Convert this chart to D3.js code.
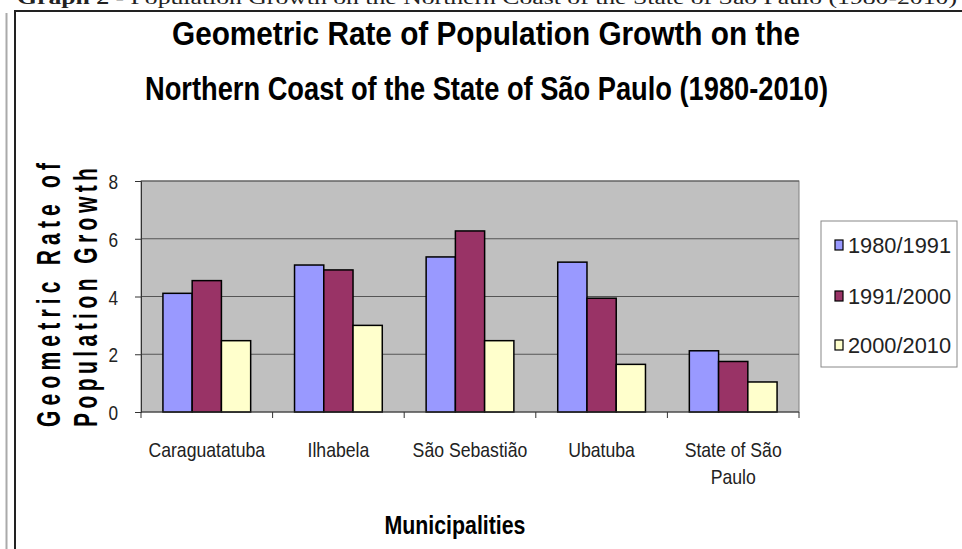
<!DOCTYPE html>
<html>
<head>
<meta charset="utf-8">
<script src="https://cdn.jsdelivr.net/npm/d3@7"></script>
<style>
  body { margin: 0; background: #fff; }
  svg { display: block; }
</style>
</head>
<body>
<script>
// Data
var municipalities = ["Caraguatatuba", "Ilhabela", "São Sebastião", "Ubatuba", "State of São Paulo"];
var periods = ["1980/1991", "1991/2000", "2000/2010"];
var rate8091 = [4.11, 5.09, 5.37, 5.19, 2.12];
var rate9100 = [4.55, 4.92, 6.27, 3.94, 1.75];
var rate0010 = [2.47, 3.00, 2.47, 1.65, 1.04];
var yTicks = [0, 2, 4, 6, 8];
var barColors = ["#9999ff", "#993366", "#ffffcc"];

var series = [rate8091, rate9100, rate0010];

var width = 962, height = 549;
var plot = { left: 141, right: 799, top: 181, bottom: 412 };

var svg = d3.select("body").append("svg")
    .attr("width", width)
    .attr("height", height)
    .style("font-family", "'Liberation Sans', Arial, sans-serif");

// squeeze a text sideways so it looks like the narrow font of the original
function narrow(sel, k) {
  sel.each(function() {
    var len = this.getComputedTextLength();
    d3.select(this).attr("textLength", len * k).attr("lengthAdjust", "spacingAndGlyphs");
  });
}

// caption of the page, clipped at the top
svg.append("text")
    .attr("x", 17).attr("y", 4)
    .attr("textLength", 940).attr("lengthAdjust", "spacingAndGlyphs")
    .style("font-family", "'Liberation Serif', 'Times New Roman', serif")
    .style("font-size", "19px")
    .style("fill", "#222")
    .html("<tspan font-weight='bold'>Graph 2</tspan> - Population Growth on the Northern Coast of the State of São Paulo (1980-2010)");

// frame lines
svg.append("line").attr("x1", 6.5).attr("x2", 6.5).attr("y1", 13).attr("y2", height)
    .style("stroke", "#aaa").style("stroke-width", 2);
svg.append("line").attr("x1", 15).attr("x2", 15).attr("y1", 11).attr("y2", height)
    .style("stroke", "#222").style("stroke-width", 2);
svg.append("line").attr("x1", 14).attr("x2", width).attr("y1", 11).attr("y2", 11)
    .style("stroke", "#222").style("stroke-width", 2);

// chart title
var titleLines = [
  { text: "Geometric Rate of Population Growth on the", x: 486, y: 45, w: 628 },
  { text: "Northern Coast of the State of São Paulo (1980-2010)", x: 486.5, y: 100, w: 683 }
];
svg.selectAll(".title").data(titleLines).enter().append("text")
    .attr("class", "title")
    .attr("x", function(d) { return d.x; })
    .attr("y", function(d) { return d.y; })
    .attr("text-anchor", "middle")
    .attr("textLength", function(d) { return d.w; })
    .attr("lengthAdjust", "spacingAndGlyphs")
    .style("font-size", "33px")
    .style("font-weight", "bold")
    .text(function(d) { return d.text; });

// scales
var x0 = d3.scaleBand().domain(municipalities).range([plot.left, plot.right]);
var x1 = d3.scaleBand().domain(periods).range([0, x0.bandwidth()]).paddingOuter(0.75);
var y = d3.scaleLinear().domain([0, 8]).range([plot.bottom, plot.top]);

// plot area
svg.append("rect")
    .attr("x", plot.left).attr("y", plot.top)
    .attr("width", plot.right - plot.left).attr("height", plot.bottom - plot.top)
    .style("fill", "#c0c0c0")
    .style("stroke", "#808080");

// gridlines
svg.append("g").selectAll("line").data(yTicks.filter(function(t) { return t > 0; }))
  .enter().append("line")
    .attr("x1", plot.left).attr("x2", plot.right)
    .attr("y1", function(d) { return y(d); }).attr("y2", function(d) { return y(d); })
    .style("stroke", "#555").style("stroke-width", 1);

// bars
var groups = svg.append("g").selectAll("g").data(municipalities).enter().append("g")
    .attr("transform", function(d) { return "translate(" + x0(d) + ",0)"; });
groups.selectAll("rect")
    .data(function(d, i) { return periods.map(function(p, j) { return { p: p, v: series[j][i], c: barColors[j] }; }); })
  .enter().append("rect")
    .attr("x", function(d) { return x1(d.p); })
    .attr("y", function(d) { return y(d.v); })
    .attr("width", x1.bandwidth())
    .attr("height", function(d) { return y(0) - y(d.v); })
    .style("fill", function(d) { return d.c; })
    .style("stroke", "#000")
    .style("stroke-width", 1.5);

// y axis
var yAxis = svg.append("g")
    .attr("transform", "translate(" + plot.left + ",0)")
    .call(d3.axisLeft(y).tickValues(yTicks).tickSize(6).tickPadding(17));
yAxis.select(".domain").style("stroke", "#333");
yAxis.selectAll(".tick line").style("stroke", "#333");
yAxis.selectAll(".tick text")
    .style("font-family", "'Liberation Sans', Arial, sans-serif")
    .style("font-size", "21px").style("fill", "#222")
    .attr("dy", "0.36em")
    .call(narrow, 0.82);

// x axis with ticks between categories
var xAxis = svg.append("g")
    .attr("transform", "translate(0," + plot.bottom + ")");
xAxis.append("line").attr("x1", plot.left).attr("x2", plot.right)
    .style("stroke", "#333");
var boundaries = municipalities.map(function(m) { return x0(m); }).concat([plot.right]);
xAxis.selectAll(".xt").data(boundaries).enter().append("line")
    .attr("class", "xt")
    .attr("x1", function(d) { return d; }).attr("x2", function(d) { return d; })
    .attr("y1", 0).attr("y2", 6)
    .style("stroke", "#333");

// category labels, wrapped like the original
var catLines = { "State of São Paulo": ["State of São", "Paulo"] };
municipalities.forEach(function(m) {
  var lines = catLines[m] || [m];
  lines.forEach(function(l, i) {
    svg.append("text")
      .attr("x", x0(m) + x0.bandwidth() / 2)
      .attr("y", 457 + i * 27)
      .attr("text-anchor", "middle")
      .style("font-size", "21px").style("fill", "#222")
      .text(l)
      .call(narrow, 0.84);
  });
});

// x axis title
svg.append("text")
    .attr("x", 455).attr("y", 534)
    .attr("text-anchor", "middle")
    .style("font-size", "26px").style("font-weight", "bold")
    .text("Municipalities")
    .call(narrow, 0.82);

// y axis title, two rotated lines with spaced letters
var yTitle = [
  { text: "Geometric Rate of", x: 60, len: 264 },
  { text: "Population Growth", x: 97, len: 259 }
];
svg.selectAll(".ytitle").data(yTitle).enter().append("text")
    .attr("class", "ytitle")
    .attr("transform", function(d) { return "translate(" + d.x + ",427) rotate(-90) scale(0.62,1)"; })
    .attr("textLength", function(d) { return d.len / 0.62; })
    .attr("lengthAdjust", "spacing")
    .style("font-size", "34px").style("font-weight", "bold")
    .text(function(d) { return d.text; });

// legend
var legend = svg.append("g");
legend.append("rect")
    .attr("x", 821).attr("y", 221).attr("width", 136).attr("height", 146)
    .style("fill", "#fff").style("stroke", "#888");
var legendY = [245, 296, 345];
var items = legend.selectAll(".item").data(periods).enter().append("g")
    .attr("class", "item")
    .attr("transform", function(d, i) { return "translate(835," + legendY[i] + ")"; });
items.append("rect")
    .attr("x", 0).attr("y", -5).attr("width", 8).attr("height", 10)
    .style("fill", function(d, i) { return barColors[i]; })
    .style("stroke", "#000").style("stroke-width", 1.2);
items.append("text")
    .attr("x", 13).attr("y", 0).attr("dy", "0.36em")
    .attr("textLength", 103).attr("lengthAdjust", "spacingAndGlyphs")
    .style("font-size", "22px").style("fill", "#222")
    .text(function(d) { return d; });
</script>
</body>
</html>
